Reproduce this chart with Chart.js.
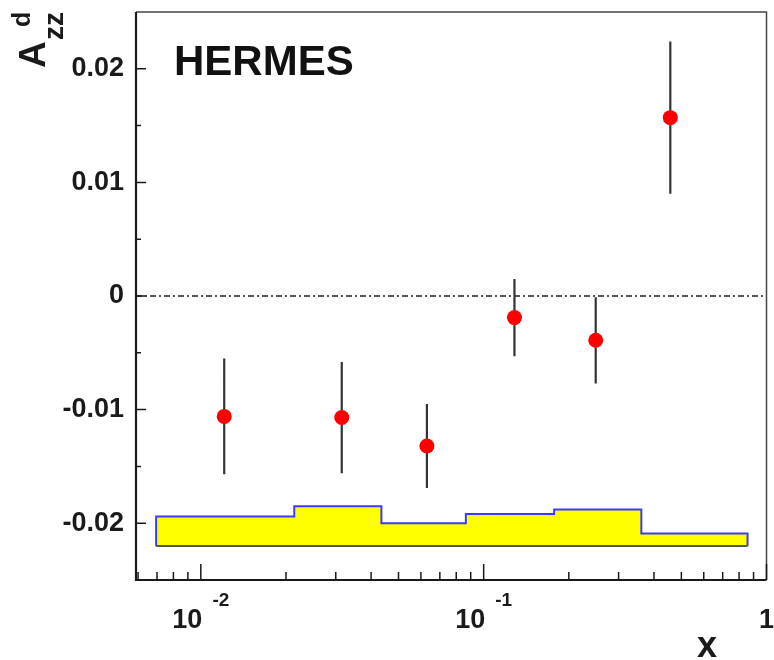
<!DOCTYPE html>
<html>
<head>
<meta charset="utf-8">
<script src="https://cdn.jsdelivr.net/npm/chart.js@4/dist/chart.umd.min.js"></script>
<style>
	html, body { margin: 0; padding: 0; background: #ffffff; }
	#wrap { width: 774px; height: 660px; }
</style>
</head>
<body>
<div id="wrap"><canvas id="myChart" width="774" height="660"></canvas></div>
<script>
// Data points (x, A_zz^d, stat. error)
const xVals = [0.0121, 0.0315, 0.063, 0.1285, 0.249, 0.457];
const yVals = [-0.0106, -0.0107, -0.0132, -0.0019, -0.0039, 0.0157];
const yErrs = [0.0051, 0.0049, 0.0037, 0.0034, 0.0038, 0.0067];

// Systematic error band (bin edges, top of each bin, common bottom)
const sysEdges = [0.00695, 0.0214, 0.0435, 0.0865, 0.1775, 0.361, 0.857];
const sysTop = [-0.0194, -0.0185, -0.0200, -0.0192, -0.0188, -0.0209];
const sysBottom = -0.0220;

// Axes
const xMin = 0.0059, xMax = 1;
const yMin = -0.025, yMax = 0.025;
const yTickVals = [-0.02, -0.01, 0, 0.01, 0.02];
const yTickText = ["-0.02", "-0.01", "0", "0.01", "0.02"];
const xTickVals = [0.01, 0.1, 1];
const xTickBase = ["10", "10", "1"];
const xTickExp = ["-2", "-1", ""];

const FONT = "'Liberation Sans', Arial, Helvetica, sans-serif";

// build datasets from the arrays
const points = xVals.map((x, i) => ({ x: x, y: yVals[i] }));

const errData = [];
xVals.forEach((x, i) => {
	errData.push({ x: x, y: yVals[i] - yErrs[i] });
	errData.push({ x: x, y: yVals[i] + yErrs[i] });
	errData.push({ x: x, y: null });
});

const bandData = [{ x: sysEdges[0], y: sysBottom }];
sysTop.forEach((t, i) => bandData.push({ x: sysEdges[i], y: t }));
bandData.push({ x: sysEdges[sysEdges.length - 1], y: sysTop[sysTop.length - 1] });
bandData.push({ x: sysEdges[sysEdges.length - 1], y: sysBottom });

const bandBottom = [
	{ x: sysEdges[0], y: sysBottom },
	{ x: sysEdges[sysEdges.length - 1], y: sysBottom },
];

const zeroLine = [{ x: xMin, y: 0 }, { x: xMax, y: 0 }];

// frame, inside ticks, labels and titles (ROOT style)
const rootFrame = {
	id: "rootFrame",
	afterDraw(chart) {
		const ctx = chart.ctx;
		const a = chart.chartArea;
		const xs = chart.scales.x;
		const ys = chart.scales.y;
		ctx.save();

		// frame
		ctx.strokeStyle = "#444";
		ctx.lineWidth = 1.5;
		ctx.beginPath();
		ctx.moveTo(a.left, a.top);
		ctx.lineTo(a.right, a.top);
		ctx.lineTo(a.right, a.bottom);
		ctx.stroke();
		ctx.strokeStyle = "#1a1a1a";
		ctx.lineWidth = 2.2;
		ctx.beginPath();
		ctx.moveTo(a.left, a.top);
		ctx.lineTo(a.left, a.bottom);
		ctx.lineTo(a.right, a.bottom);
		ctx.stroke();

		// y ticks
		ctx.lineWidth = 1.5;
		ctx.beginPath();
		for (let v = -0.02; v <= 0.0201; v += 0.005) {
			const major = Math.abs(Math.round(v * 100) - v * 100) < 1e-6;
			const py = ys.getPixelForValue(v);
			ctx.moveTo(a.left, py);
			ctx.lineTo(a.left + (major ? 10 : 5), py);
		}
		// x ticks (log)
		for (let d = -3; d <= 0; d++) {
			for (let m = 1; m <= 9; m++) {
				const v = m * Math.pow(10, d);
				if (v < xMin || v > xMax) continue;
				const px = xs.getPixelForValue(v);
				ctx.moveTo(px, a.bottom);
				ctx.lineTo(px, a.bottom - (m === 1 ? 16 : 8));
			}
		}
		ctx.stroke();

		// x tick labels 10^n
		ctx.fillStyle = "#1a1a1a";
		ctx.textBaseline = "alphabetic";
		xTickVals.forEach((v, i) => {
			const px = xs.getPixelForValue(v);
			ctx.font = "bold 27px " + FONT;
			const wb = ctx.measureText(xTickBase[i]).width;
			ctx.font = "bold 19px " + FONT;
			const we = xTickExp[i] ? ctx.measureText(xTickExp[i]).width + 10 : 0;
			const x0 = px - (wb + we) / 2;
			ctx.font = "bold 27px " + FONT;
			ctx.textAlign = "left";
			ctx.fillText(xTickBase[i], x0, 628);
			if (xTickExp[i]) {
				ctx.font = "bold 19px " + FONT;
				ctx.fillText(xTickExp[i], x0 + wb + 10, 606);
			}
		});

		// x axis title
		ctx.font = "bold 36px " + FONT;
		ctx.textAlign = "center";
		ctx.fillText("x", 707, 657);

		// y axis title A_zz^d (rotated)
		ctx.translate(45, 68);
		ctx.rotate(-Math.PI / 2);
		ctx.textAlign = "left";
		ctx.font = "bold 37px " + FONT;
		ctx.fillText("A", 0, 0);
		ctx.font = "bold 28px " + FONT;
		ctx.fillText("zz", 28, 18);
		ctx.font = "bold 25px " + FONT;
		ctx.fillText("d", 41, -15);
		ctx.restore();

		// experiment label
		ctx.save();
		ctx.fillStyle = "#111";
		ctx.font = "bold 42px " + FONT;
		ctx.textAlign = "left";
		ctx.fillText("HERMES", 174, 75);
		ctx.restore();
	},
};

var ctx = document.getElementById("myChart").getContext("2d");
var myChart = new Chart(ctx, {
	type: "scatter",
	data: {
		datasets: [
			{
				// measured points
				data: points,
				backgroundColor: "#ff0000",
				borderWidth: 0,
				pointRadius: 7.5,
				pointHoverRadius: 7.5,
			},
			{
				// statistical errors
				data: errData,
				showLine: true,
				spanGaps: false,
				borderColor: "#333333",
				borderWidth: 2.2,
				pointRadius: 0,
			},
			{
				// zero line
				data: zeroLine,
				showLine: true,
				borderColor: "#222222",
				borderWidth: 1.4,
				borderDash: [6, 3, 2, 3],
				pointRadius: 0,
			},
			{
				// systematic band bottom
				data: bandBottom,
				showLine: true,
				borderColor: "#555555",
				borderWidth: 2,
				pointRadius: 0,
			},
			{
				// systematic band
				data: bandData,
				showLine: true,
				stepped: true,
				fill: { value: sysBottom },
				backgroundColor: "#ffff00",
				borderColor: "#3a3aff",
				borderWidth: 2,
				pointRadius: 0,
			},
		],
	},
	options: {
		responsive: false,
		animation: false,
		events: [],
		layout: {
			padding: { top: 12, right: 4, left: 0, bottom: 0 },
		},
		plugins: {
			legend: { display: false },
			tooltip: { enabled: false },
		},
		scales: {
			x: {
				type: "logarithmic",
				min: xMin,
				max: xMax,
				grid: { display: false, drawTicks: false },
				border: { display: false },
				ticks: { display: false },
				afterFit(scale) {
					scale.height = 80;
					scale.paddingLeft = 0;
					scale.paddingRight = 0;
				},
			},
			y: {
				type: "linear",
				min: yMin,
				max: yMax,
				grid: { display: false, drawTicks: false },
				border: { display: false },
				afterBuildTicks(scale) {
					scale.ticks = yTickVals.map((v) => ({ value: v }));
				},
				ticks: {
					padding: 12,
					color: "#1a1a1a",
					font: { family: FONT, size: 27, weight: "bold" },
					callback: function (value) {
						const i = yTickVals.findIndex((v) => Math.abs(v - value) < 1e-9);
						return i >= 0 ? yTickText[i] : "";
					},
				},
				afterFit(scale) {
					scale.width = 136;
					scale.paddingTop = 0;
					scale.paddingBottom = 0;
				},
			},
		},
	},
	plugins: [rootFrame],
});
</script>
</body>
</html>
